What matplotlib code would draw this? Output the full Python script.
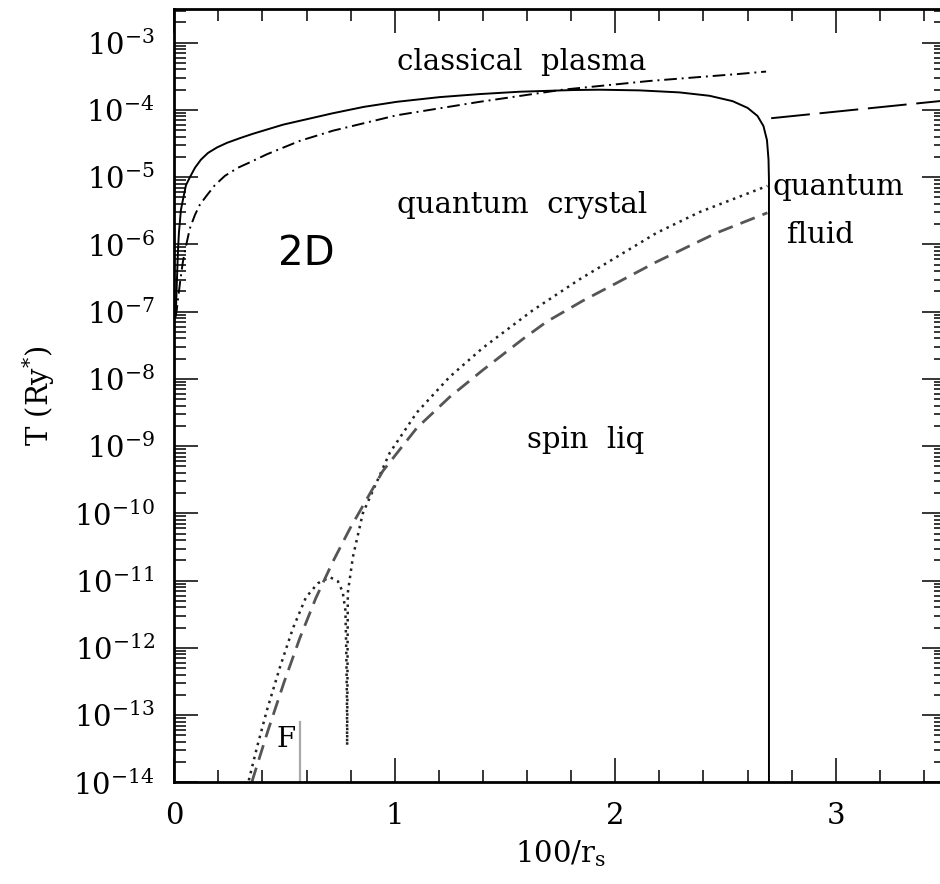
import numpy as np
import matplotlib
matplotlib.use("Agg")
import matplotlib.pyplot as plt
from matplotlib.ticker import LogLocator, MultipleLocator, NullFormatter

# ----------------------------
# Data (x = 100/r_s, values are log10 T in Ry*)
# ----------------------------
melt_x = [0.005, 0.008, 0.012, 0.017, 0.021, 0.030, 0.039, 0.053, 0.071, 0.094,
          0.121, 0.153, 0.193, 0.239, 0.298, 0.357, 0.493, 0.719, 0.860, 1.009,
          1.204, 1.385, 1.566, 1.807, 1.929, 2.110, 2.291, 2.427, 2.532, 2.600,
          2.645, 2.672, 2.688, 2.695, 2.697, 2.697]
melt_logT = [-7.05, -6.93, -6.53, -6.08, -5.83, -5.49, -5.34, -5.12, -5.00, -4.86,
             -4.74, -4.64, -4.56, -4.49, -4.42, -4.355, -4.22, -4.05, -3.955, -3.88,
             -3.81, -3.765, -3.73, -3.705, -3.70, -3.71, -3.74, -3.79, -3.87, -3.97,
             -4.09, -4.24, -4.45, -4.74, -5.04, -14.0]

plasma_x = [0.005, 0.011, 0.026, 0.039, 0.056, 0.071, 0.094, 0.116, 0.148, 0.184,
            0.230, 0.289, 0.343, 0.420, 0.570, 0.719, 1.009, 1.385, 1.761, 2.155,
            2.563, 2.684]
plasma_logT = [-7.09, -6.98, -6.57, -6.26, -5.98, -5.76, -5.56, -5.41, -5.27, -5.12,
               -4.98, -4.86, -4.78, -4.66, -4.46, -4.31, -4.08, -3.88, -3.70, -3.57,
               -3.465, -3.43]

fluid_x = [2.707, 3.5]
fluid_logT = [-4.124, -3.86]

# exchange curve (dotted): dips where the coupling changes sign
exch_x = [0.338, 0.375, 0.420, 0.479, 0.538, 0.597, 0.651, 0.706, 0.742, 0.764,
          0.776, 0.780, 0.783, 0.784, 0.786, 0.787, 0.810, 0.855, 0.977, 1.100,
          1.249, 1.399, 1.626, 1.838, 2.187, 2.382, 2.690]
exch_logT = [-13.97, -13.48, -12.93, -12.29, -11.71, -11.25, -11.04, -10.95, -11.01, -11.17,
             -11.44, -12.03, -12.78, -13.45, -12.03, -11.18, -10.65, -10.00, -9.10, -8.50,
             -7.97, -7.54, -6.98, -6.52, -5.83, -5.52, -5.13]

spin_x = [0.352, 0.357, 0.424, 0.497, 0.570, 0.642, 0.719, 0.796, 0.946, 1.100,
          1.249, 1.399, 1.580, 1.689, 1.852, 1.974, 2.187, 2.459, 2.690]
spin_logT = [-14.0, -13.94, -13.24, -12.52, -11.85, -11.26, -10.72, -10.23, -9.37, -8.73,
             -8.27, -7.87, -7.41, -7.15, -6.84, -6.63, -6.26, -5.83, -5.53]

fermi_x = 0.571
fermi_logT = -13.11

# ----------------------------
# Plot
# ----------------------------
plt.rcParams["font.family"] = "DejaVu Serif"
plt.rcParams["mathtext.fontset"] = "dejavuserif"

fig = plt.figure(figsize=(9.4, 8.84), dpi=100)
ax = fig.add_axes([0.1854, 0.1150, 0.8210, 0.8748])

ax.plot(melt_x, 10.0 ** np.array(melt_logT), color="black", lw=1.4)
ax.plot(plasma_x, 10.0 ** np.array(plasma_logT), color="black", lw=1.4,
        dashes=(6.5, 2.5, 1, 2.5))
ax.plot(fluid_x, 10.0 ** np.array(fluid_logT), color="black", lw=1.4,
        dashes=(20, 5))
ax.plot(exch_x, 10.0 ** np.array(exch_logT), color="#222222", lw=1.8,
        dashes=(1, 1.9))
ax.plot(spin_x, 10.0 ** np.array(spin_logT), color="#555555", lw=2.0,
        dashes=(5.5, 3))
ax.plot([fermi_x, fermi_x], [1e-14, 10.0 ** fermi_logT], color="#aaaaaa", lw=1.6)

ax.set_yscale("log")
ax.set_xlim(0, 3.5)
ax.set_ylim(1e-14, 10 ** -2.5)

ax.xaxis.set_major_locator(MultipleLocator(1))
ax.xaxis.set_minor_locator(MultipleLocator(0.2))
ax.yaxis.set_major_locator(LogLocator(base=10, numticks=20))
ax.yaxis.set_minor_locator(LogLocator(base=10, subs=np.arange(2, 10), numticks=20))
ax.yaxis.set_minor_formatter(NullFormatter())

ax.tick_params(which="both", direction="in", top=True, right=True, width=1.1,
               labelsize=21)
ax.tick_params(which="major", length=17, pad=14)
ax.tick_params(which="minor", length=8.5)
for s in ax.spines.values():
    s.set_linewidth(2)

ax.set_xlabel(r"100/r$_{\rm s}$", fontsize=21, labelpad=6)
ax.set_ylabel(r"T (Ry$^{*}$)", fontsize=21, labelpad=12)

# region labels
ax.text(1.009, 10 ** -3.41, "classical  plasma", fontsize=21, va="baseline")
ax.text(1.009, 10 ** -5.53, "quantum  crystal", fontsize=21, va="baseline")
ax.text(2.712, 10 ** -5.265, "quantum", fontsize=21, va="baseline")
ax.text(2.78, 10 ** -5.98, "fluid", fontsize=21, va="baseline")
ax.text(1.598, 10 ** -9.03, "spin  liq", fontsize=21, va="baseline")
ax.text(0.47, 10 ** -6.31, "2D", fontsize=29, va="baseline", family="DejaVu Sans")
ax.text(0.505, 10 ** -13.37, "F", fontsize=20, ha="center", va="center")

fig.savefig("out.png", dpi=100)
